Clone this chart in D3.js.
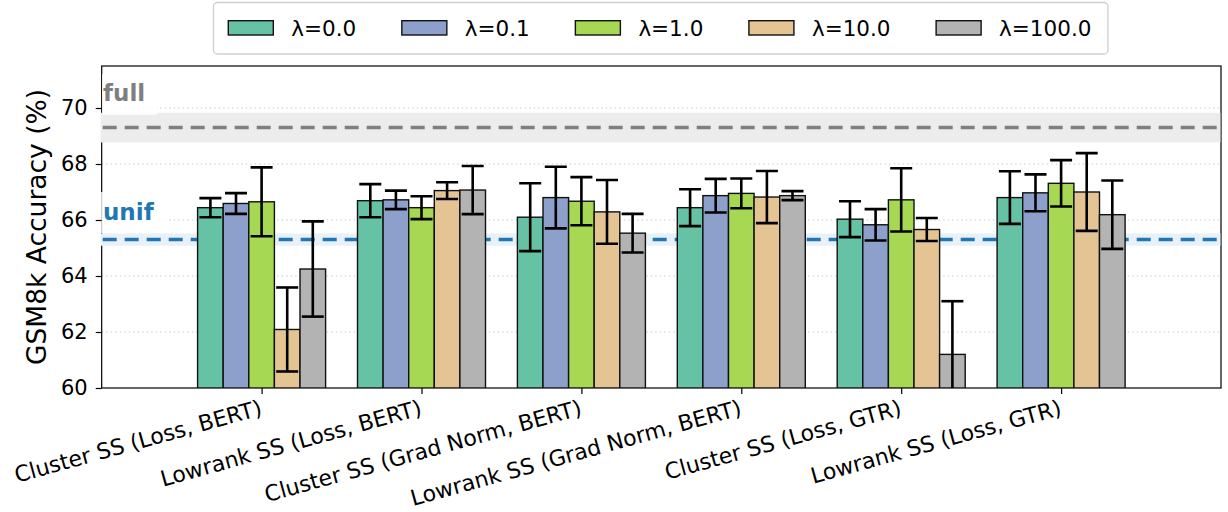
<!DOCTYPE html>
<html lang="en">
<head>
    <meta charset="UTF-8">
    <title>GSM8k accuracy by lambda</title>
    <script src="https://d3js.org/d3.v7.min.js"></script>
    <style>
        body { margin: 0; background: #fff; }
        text { font-family: "DejaVu Sans", sans-serif; }
    </style>
</head>
<body>
<svg id="chart"></svg>
<script>
    // data
    const groups = ["Cluster SS (Loss, BERT)", "Lowrank SS (Loss, BERT)", "Cluster SS (Grad Norm, BERT)",
        "Lowrank SS (Grad Norm, BERT)", "Cluster SS (Loss, GTR)", "Lowrank SS (Loss, GTR)"];
    const lambdas = ["λ=0.0", "λ=0.1", "λ=1.0", "λ=10.0", "λ=100.0"];
    const colors = ["#66c2a5", "#8da0cb", "#a6d854", "#e5c494", "#b3b3b3"];

    const means = [
        [66.44, 66.69, 66.10, 66.44, 66.03, 66.80],
        [66.59, 66.72, 66.80, 66.87, 65.83, 66.97],
        [66.65, 66.44, 66.67, 66.95, 66.72, 67.31],
        [62.09, 67.05, 66.29, 66.82, 65.66, 67.00],
        [64.25, 67.07, 65.53, 66.87, 61.20, 66.19]
    ];
    const errs = [
        [0.34, 0.59, 1.21, 0.66, 0.64, 0.94],
        [0.37, 0.33, 1.10, 0.60, 0.56, 0.66],
        [1.23, 0.41, 0.86, 0.53, 1.13, 0.83],
        [1.50, 0.30, 1.14, 0.93, 0.41, 1.39],
        [1.70, 0.86, 0.69, 0.16, 1.90, 1.22]
    ];

    const yTicks = [60, 62, 64, 66, 68, 70];
    const fullAcc = 69.3, fullStd = 0.53;
    const unifAcc = 65.3, unifStd = 0.22;

    const width = 1228, height = 512;
    const pLeft = 101.7, pRight = 1221, pTop = 66, pBottom = 388;

    const svg = d3.select("#chart").attr("width", width).attr("height", height);

    const x = d3.scaleLinear().domain([-1, 6]).range([pLeft, pRight]);
    const xInner = d3.scaleBand().domain(lambdas).range([-64, 64]).padding(0);
    const y = d3.scaleLinear().domain([60, 71.5]).range([pBottom, pTop]);

    svg.append("clipPath").attr("id", "plot")
        .append("rect").attr("x", pLeft).attr("y", pTop).attr("width", pRight - pLeft).attr("height", pBottom - pTop);

    // grid
    svg.append("g").selectAll("line")
        .data(yTicks.slice(1))
        .join("line")
        .attr("x1", pLeft).attr("x2", pRight)
        .attr("y1", d => y(d)).attr("y2", d => y(d))
        .attr("stroke", "#c8c8c8")
        .attr("stroke-width", 1)
        .attr("stroke-dasharray", "1.5,3");

    // frame
    svg.append("rect")
        .attr("x", pLeft).attr("y", pTop)
        .attr("width", pRight - pLeft).attr("height", pBottom - pTop)
        .attr("fill", "none").attr("stroke", "#000").attr("stroke-width", 1.2);

    // baseline bands + lines
    const refs = [
        {name: "full", v: fullAcc, s: fullStd, line: "#7f7f7f", band: "#ececec"},
        {name: "unif", v: unifAcc, s: unifStd, line: "#1f77b4", band: "#e8f0f8"}
    ];
    svg.append("g").selectAll("rect")
        .data(refs)
        .join("rect")
        .attr("x", pLeft - 1).attr("width", pRight - pLeft + 0.4)
        .attr("y", d => y(d.v + d.s))
        .attr("height", d => y(d.v - d.s) - y(d.v + d.s))
        .attr("fill", d => d.band);

    svg.append("g").selectAll("line")
        .data(refs)
        .join("line")
        .attr("x1", pLeft + 1).attr("x2", pRight)
        .attr("y1", d => y(d.v)).attr("y2", d => y(d.v))
        .attr("stroke", d => d.line)
        .attr("stroke-width", 3.5)
        .attr("stroke-dasharray", "14,8");

    // label boxes
    svg.append("rect").attr("x", 102).attr("y", 74).attr("width", 55).attr("height", 41)
        .attr("fill", "#fff").attr("fill-opacity", 0.8);
    svg.append("rect").attr("x", 100).attr("y", 192).attr("width", 67).attr("height", 41)
        .attr("fill", "#fff").attr("fill-opacity", 0.8);
    svg.append("text").attr("x", 103).attr("y", 100.5).text("full")
        .attr("fill", "#7f7f7f").attr("font-weight", "bold").attr("font-size", 23);
    svg.append("text").attr("x", 103).attr("y", 220).text("unif")
        .attr("fill", "#1f77b4").attr("font-weight", "bold").attr("font-size", 23);

    // bars
    const plot = svg.append("g").attr("clip-path", "url(#plot)");
    lambdas.forEach((lam, j) => {
        const rows = groups.map((g, i) => ({i: i, m: means[j][i], e: errs[j][i]}));
        plot.append("g").selectAll("rect")
            .data(rows)
            .join("rect")
            .attr("x", d => x(d.i) + xInner(lam))
            .attr("y", d => y(d.m))
            .attr("width", xInner.bandwidth())
            .attr("height", d => y(60) - y(d.m))
            .attr("fill", colors[j])
            .attr("stroke", "#111")
            .attr("stroke-width", 1.4);
    });
    lambdas.forEach((lam, j) => {
        const rows = groups.map((g, i) => ({i: i, m: means[j][i], e: errs[j][i]}));
        const cx = d => x(d.i) + xInner(lam) + xInner.bandwidth() / 2;
        const eb = plot.append("g").attr("stroke", "#000").attr("stroke-width", 2.6);
        eb.selectAll(".stem").data(rows).join("line").attr("class", "stem")
            .attr("x1", cx).attr("x2", cx)
            .attr("y1", d => y(d.m + d.e)).attr("y2", d => y(d.m - d.e));
        eb.selectAll(".capT").data(rows).join("line").attr("class", "capT")
            .attr("x1", d => cx(d) - 11).attr("x2", d => cx(d) + 11)
            .attr("y1", d => y(d.m + d.e)).attr("y2", d => y(d.m + d.e));
        eb.selectAll(".capB").data(rows).join("line").attr("class", "capB")
            .attr("x1", d => cx(d) - 11).attr("x2", d => cx(d) + 11)
            .attr("y1", d => y(d.m - d.e)).attr("y2", d => y(d.m - d.e));
    });

    // y axis
    const yAxis = svg.append("g").attr("transform", `translate(${pLeft},0)`)
        .call(d3.axisLeft(y).tickValues(yTicks).tickSize(6).tickPadding(8).tickFormat(d3.format("d")));
    yAxis.select(".domain").remove();
    yAxis.selectAll("text").attr("font-size", 21).attr("fill", "#000").attr("font-family", "DejaVu Sans");
    yAxis.selectAll("line").attr("stroke", "#000").attr("stroke-width", 1.2);

    svg.append("text")
        .attr("transform", `translate(46,${(pTop + pBottom) / 2}) rotate(-90)`)
        .attr("text-anchor", "middle")
        .attr("font-size", 26.5)
        .text("GSM8k Accuracy (%)");

    // x axis
    const xAxis = svg.append("g").attr("transform", `translate(0,${pBottom})`)
        .call(d3.axisBottom(x).tickValues(d3.range(groups.length)).tickSize(6).tickFormat(""));
    xAxis.select(".domain").remove();
    xAxis.selectAll("line").attr("stroke", "#000").attr("stroke-width", 1.2);

    svg.append("g").selectAll("text")
        .data(groups)
        .join("text")
        .attr("transform", (d, i) => `translate(${x(i) - 3},${pBottom + 10}) rotate(-15.5)`)
        .attr("text-anchor", "end")
        .attr("dy", "0.78em")
        .attr("font-size", 22)
        .text(d => d);

    // legend
    const legend = svg.append("g");
    const box = legend.append("rect")
        .attr("x", 213.5).attr("y", 2.5).attr("height", 51.5)
        .attr("rx", 4).attr("fill", "#fff").attr("stroke", "#cfcfcf").attr("stroke-width", 1.3);
    let lx = 228.3;
    lambdas.forEach((lam, j) => {
        legend.append("rect")
            .attr("x", lx).attr("y", 20.7).attr("width", 45).attr("height", 14.3)
            .attr("fill", colors[j]).attr("stroke", "#111").attr("stroke-width", 1.4);
        const t = legend.append("text")
            .attr("x", lx + 63).attr("y", 36)
            .attr("font-size", 21.5)
            .text(lam);
        lx = lx + 63 + t.node().getComputedTextLength() + 45.6;
    });
    box.attr("width", lx - 45.6 + 16.5 - 213.5);
</script>
</body>
</html>
